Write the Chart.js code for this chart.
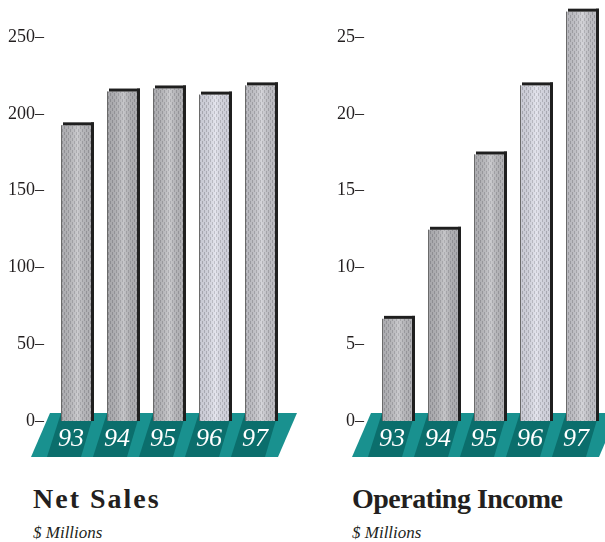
<!DOCTYPE html>
<html>
<head>
<meta charset="utf-8">
<script src="https://cdn.jsdelivr.net/npm/chart.js@4/dist/chart.umd.min.js"></script>
<style>
  body { margin: 0; background: #fff; width: 605px; height: 542px; position: relative; overflow: hidden;
         font-family: "Liberation Serif", "Times New Roman", serif; color: #231f20; }
  canvas { position: absolute; top: 0; }
  #sales { left: 0; }
  #income { left: 320px; }
  .title { position: absolute; top: 485px; font-size: 28px; line-height: 28px; font-weight: bold; }
  .sub { position: absolute; top: 524px; font-size: 17px; line-height: 17px; font-style: italic; }
</style>
</head>
<body>
<canvas id="sales" width="300" height="470"></canvas>
<canvas id="income" width="285" height="470"></canvas>
<div class="title" style="left:33px;letter-spacing:2px">Net Sales</div>
<div class="sub" style="left:33px">$ Millions</div>
<div class="title" style="left:352px;letter-spacing:-0.5px">Operating Income</div>
<div class="sub" style="left:352px">$ Millions</div>
<script>
const years = ['93', '94', '95', '96', '97'];
const netSales = [192.5, 214.5, 216.5, 212.5, 218.5];
const operatingIncome = [6.65, 12.45, 17.35, 21.85, 26.65];
const salesTicks = [0, 50, 100, 150, 200, 250];
const incomeTicks = [0, 5, 10, 15, 20, 25];
const salesMax = 270;
const incomeMax = 27;

// bar tints (96 is lighter / bluish in the print)
const barTints = ['#bcbcc0', '#b6b6ba', '#bcbcc0', '#dcdde8', '#c8c8ce'];
const serif = "'Liberation Serif', 'Times New Roman', serif";

Chart.defaults.font.family = serif;

function makeFill(ctx, tint) {
  const tile = document.createElement('canvas');
  tile.width = 4; tile.height = 6;
  const t = tile.getContext('2d');
  t.fillStyle = tint;
  t.fillRect(0, 0, 4, 6);
  t.fillStyle = 'rgba(60,60,70,0.26)';
  t.fillRect(0, 0, 1, 3);
  t.fillRect(2, 3, 1, 3);
  return ctx.createPattern(tile, 'repeat');
}

// teal base strip with the year labels on it
const basePlate = {
  id: 'basePlate',
  beforeDraw(chart) {
    const ctx = chart.ctx, area = chart.chartArea;
    const top = area.bottom - 8, bot = area.bottom + 36, slant = 19;
    const left = area.left - 3, right = area.right + 14;
    ctx.save();
    ctx.fillStyle = '#19918f';
    ctx.beginPath();
    ctx.moveTo(left, top); ctx.lineTo(right, top);
    ctx.lineTo(right - slant, bot); ctx.lineTo(left - slant, bot);
    ctx.closePath(); ctx.fill();
    ctx.fillStyle = '#0b6e6c';
    chart.getDatasetMeta(0).data.forEach(bar => {
      const l = bar.x - bar.width / 2, r = bar.x + bar.width / 2 + 3;
      ctx.beginPath();
      ctx.moveTo(l, top); ctx.lineTo(r, top);
      ctx.lineTo(r - 13, bot); ctx.lineTo(l - 14, bot);
      ctx.closePath(); ctx.fill();
    });
    ctx.restore();
  }
};

// dark top cap and right shadow on every bar
const barTrim = {
  id: 'barTrim',
  afterDatasetsDraw(chart) {
    const ctx = chart.ctx;
    const base = chart.scales.y.getPixelForValue(0);
    ctx.save();
    chart.getDatasetMeta(0).data.forEach(bar => {
      const w = bar.width, l = bar.x - w / 2, r = bar.x + w / 2, t = bar.y;
      const g = ctx.createLinearGradient(l, 0, r, 0);
      g.addColorStop(0, 'rgba(0,0,0,0.08)');
      g.addColorStop(0.55, 'rgba(255,255,255,0.22)');
      g.addColorStop(1, 'rgba(0,0,0,0.05)');
      ctx.fillStyle = g;
      ctx.fillRect(l, t, w, base - t);
      ctx.fillStyle = '#1f1f1f';
      ctx.fillRect(l + 2, t - 3, w + 1, 3);
      ctx.fillRect(r, t - 3, 3, base - t + 3);
      ctx.fillStyle = '#6a6a6a';
      ctx.fillRect(l, t, 1, base - t);
    });
    ctx.restore();
  }
};

function drawChart(id, values, ticks, max, axisWidth, labelPad, rightPad) {
  const ctx = document.getElementById(id).getContext('2d');
  const fills = barTints.map(c => makeFill(ctx, c));
  return new Chart(ctx, {
    type: 'bar',
    data: {
      labels: years,
      datasets: [{
        data: values,
        backgroundColor: c => fills[c.dataIndex],
        borderWidth: 0,
        barPercentage: 30 / 46,
        categoryPercentage: 1
      }]
    },
    options: {
      responsive: false,
      animation: false,
      layout: { padding: { top: 6.3, right: rightPad, left: 0, bottom: 0 } },
      plugins: { legend: { display: false }, tooltip: { enabled: false } },
      scales: {
        x: {
          grid: { display: false, drawTicks: false },
          border: { display: false },
          ticks: {
            color: '#ffffff',
            font: { family: serif, style: 'italic', size: 26 },
            padding: 3,
            labelOffset: -5
          },
          afterFit(s) { s.height = 49; s.paddingLeft = 0; s.paddingRight = 0; }
        },
        y: {
          min: 0,
          max: max,
          grid: { display: false, drawTicks: false },
          border: { display: false },
          afterBuildTicks(s) { s.ticks = ticks.map(v => ({ value: v })); },
          ticks: {
            color: '#231f20',
            font: { family: serif, size: 18 },
            padding: labelPad,
            callback: v => v + '–'
          },
          afterFit(s) { s.width = axisWidth; s.paddingTop = 0; s.paddingBottom = 0; }
        }
      }
    },
    plugins: [basePlate, barTrim]
  });
}

drawChart('sales', netSales, salesTicks, salesMax, 53, 9, 17);
drawChart('income', operatingIncome, incomeTicks, incomeMax, 54, 10, 1);
</script>
</body>
</html>
